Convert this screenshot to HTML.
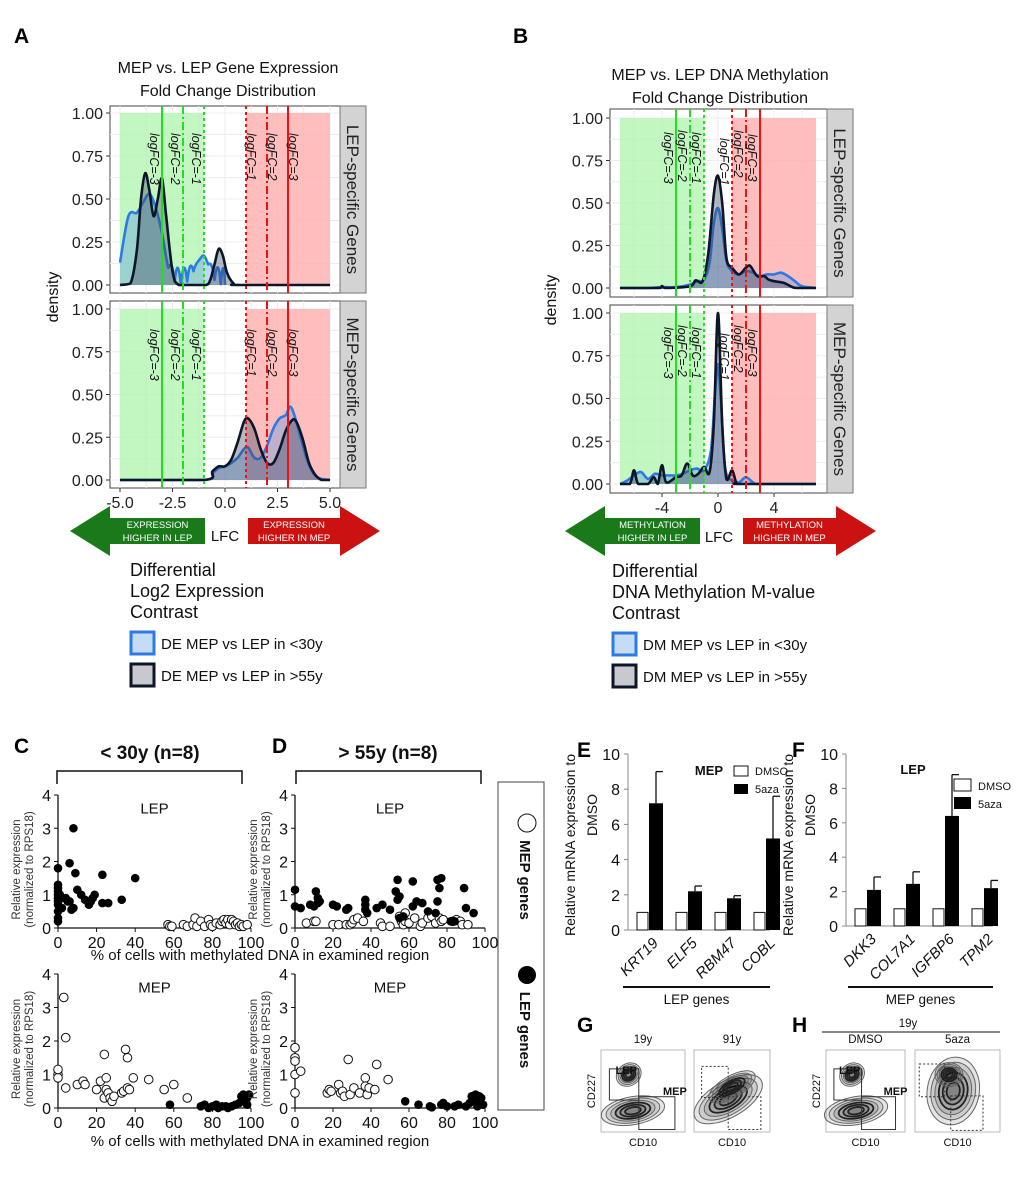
<!DOCTYPE html>
<html><head><meta charset="utf-8"><style>
html,body{margin:0;padding:0;background:#fff}
svg{display:block;font-family:"Liberation Sans",sans-serif}
</style></head><body>
<svg id="fig" width="1020" height="1189" viewBox="0 0 1020 1189" xmlns="http://www.w3.org/2000/svg"></svg>
<script>
// ---------- DATA ----------
const aTopBlueX=[-5,-4.6,-4.2,-3.9,-3.6,-3.3,-3.0,-2.7,-2.4,-2.1,-1.8,-1.5,-1.2,-1.0,-0.8,-0.5,-0.2,0];
const aTopBlueY=[0.13,0.40,0.42,0.48,0.53,0.45,0.30,0.10,0.02,0,0.02,0.08,0.15,0.17,0.12,0.03,0.005,0];
const aTopBlackX=[-5,-4.5,-4.2,-4.0,-3.8,-3.6,-3.4,-3.2,-3.0,-2.8,-2.5,-2.2,-1.5,-0.9,-0.7,-0.5,-0.3,-0.1,0.1,0.4,0.7,5];
const aTopBlackY=[0,0.01,0.2,0.5,0.65,0.55,0.40,0.5,0.62,0.4,0.08,0,0,0,0.03,0.12,0.21,0.17,0.07,0.01,0,0];
const aBotBlueX=[-5,-1,-0.6,-0.3,0,0.3,0.6,0.9,1.1,1.4,1.7,2.0,2.3,2.6,2.9,3.1,3.3,3.6,3.9,4.2,4.5,5];
const aBotBlueY=[0,0,0.04,0.07,0.08,0.1,0.13,0.18,0.19,0.13,0.13,0.2,0.3,0.36,0.38,0.43,0.38,0.25,0.12,0.04,0.01,0];
const aBotBlackX=[-5,-1,-0.6,-0.3,0,0.3,0.6,0.9,1.1,1.4,1.7,2.0,2.3,2.6,2.9,3.2,3.4,3.7,4.0,4.3,4.6,5];
const aBotBlackY=[0,0,0.05,0.08,0.08,0.12,0.22,0.34,0.36,0.3,0.18,0.1,0.1,0.18,0.29,0.35,0.34,0.24,0.1,0.03,0,0];
const bTopBlueX=[-7,-5,-4,-3,-2,-1.5,-1,-0.6,-0.3,0,0.3,0.6,1,1.5,2,2.5,3,3.5,4,4.5,5,5.5,6,7];
const bTopBlueY=[0,0,0.005,0.005,0.02,0.04,0.05,0.15,0.38,0.47,0.35,0.16,0.1,0.08,0.1,0.09,0.07,0.08,0.08,0.09,0.07,0.04,0.01,0];
const bTopBlackX=[-7,-4.3,-4,-3.7,-2,-1.6,-1.1,-0.7,-0.3,0,0.3,0.6,1,1.5,2,2.3,2.8,3.3,3.6,4,4.7,5.2,5.6,7];
const bTopBlackY=[0,0,0.012,0,0.01,0.045,0.04,0.2,0.55,0.66,0.5,0.18,0.12,0.08,0.12,0.13,0.07,0.07,0.05,0.04,0.03,0.01,0,0];
const bBotBlueX=[-7,-6.5,-6,-5.5,-5,-4.5,-4,-3.5,-3,-2.5,-2,-1.5,-1,-0.5,-0.2,0,0.2,0.5,1,1.5,2,2.5,3,7];
const bBotBlueY=[0,0.02,0.05,0.07,0.03,0.06,0.05,0.05,0.05,0.06,0.08,0.09,0.08,0.2,0.55,0.7,0.5,0.1,0.02,0.01,0.04,0.01,0,0];
const bBotBlackX=[-7,-6.3,-6,-5.7,-5,-4.6,-4.3,-4,-3.7,-3,-2.6,-2.2,-1.8,-1.4,-1.0,-0.6,-0.3,0,0.3,0.6,1,1.3,1.6,7];
const bBotBlackY=[0,0,0.08,0,0,0.04,0,0.11,0.01,0.04,0.05,0.12,0.05,0.06,0.1,0.07,0.35,1.0,0.35,0.03,0.08,0.01,0,0];

const cTopFilled=[[0,1.8],[0,1.3],[0,1.2],[0,1.1],[0,1.0],[0,0.9],[0,0.8],[0,0.7],[0,0.5],[0,0.3],[0,0.2],[1,1.0],[2,0.9],[2,0.6],[4,0.9],[5,0.8],[6,0.8],[6,1.95],[7,0.55],[8,0.6],[8,3.0],[9,1.65],[10,1.15],[12,1.0],[14,0.85],[16,0.7],[17,0.8],[18,0.9],[19,1.0],[23,0.75],[23,1.6],[26,0.75],[33,0.85],[40,1.5]];
const cTopOpen=[[57,0.1],[58,0.05],[59,0.05],[65,0.1],[67,0.05],[70,0.1],[71,0.3],[72,0.05],[74,0.2],[76,0.05],[78,0.25],[79,0.1],[80,0.05],[82,0.15],[84,0.1],[85,0.2],[86,0.25],[87,0.15],[88,0.25],[89,0.1],[90,0.25],[91,0.2],[92,0.1],[93,0.15],[94,0.05],[95,0.1],[96,0.05],[98,0.1]];
const dTopFilled=[[0,1.15],[0,0.65],[3,0.6],[8,0.7],[10,0.65],[11,1.1],[12,0.9],[12,0.75],[13,0.8],[20,0.7],[22,0.65],[27,0.55],[28,0.6],[37,0.85],[37,0.7],[37,0.55],[38,0.45],[43,0.6],[46,0.7],[50,0.55],[54,1.45],[53,1.1],[54,0.85],[55,0.95],[55,0.3],[57,0.35],[62,1.4],[62,0.65],[64,0.8],[67,0.75],[70,0.5],[74,0.45],[75,1.45],[76,1.2],[75,0.8],[77,1.5],[82,0.2],[84,0.2],[89,1.2],[90,0.6],[94,0.45]];
const dTopOpen=[[6,0.15],[10,0.2],[11,0.2],[20,0.1],[23,0.1],[27,0.1],[29,0.1],[30,0.15],[31,0.25],[33,0.3],[36,0.2],[45,0.15],[46,0.05],[50,0.05],[55,0.35],[56,0.2],[57,0.1],[58,0.45],[58,0.2],[60,0.15],[63,0.3],[66,0.05],[67,0.15],[70,0.3],[72,0.35],[74,0.15],[76,0.3],[77,0.2],[78,0.25],[83,0.2],[85,0.25],[87,0.2],[88,0.1],[91,0.1]];
const cBotOpen=[[0,1.0],[0,0.9],[0,1.15],[3,3.3],[4,2.1],[4,0.6],[10,0.7],[13,0.8],[14,0.7],[20,0.55],[22,0.8],[24,1.6],[25,0.9],[25,0.55],[24,0.3],[26,0.45],[27,0.3],[28,0.2],[29,0.35],[33,0.45],[34,0.5],[35,1.75],[36,1.5],[36,0.6],[37,0.55],[39,0.9],[47,0.85],[55,0.55],[60,0.7],[67,0.3]];
const cBotFilled=[[58,0.1],[74,0.05],[76,0.1],[78,0.0],[80,0.05],[82,0.1],[83,0.0],[85,0.05],[87,0.05],[88,0.0],[90,0.05],[92,0.1],[94,0.15],[95,0.35],[96,0.4],[97,0.2],[98,0.3],[99,0.4],[98,0.1]];
const dBotOpen=[[0,1.8],[0,1.5],[0,1.4],[0,1.0],[0,0.45],[3,1.1],[17,0.45],[18,0.55],[19,0.5],[23,0.7],[24,0.45],[25,0.5],[26,0.35],[28,1.45],[29,0.4],[31,0.6],[34,0.45],[37,0.9],[37,0.65],[38,0.4],[39,0.6],[42,0.55],[43,1.3],[49,0.85]];
const dBotFilled=[[58,0.2],[65,0.1],[71,0.05],[72,0.02],[77,0.1],[78,0.15],[80,0.05],[84,0.05],[86,0.1],[90,0.05],[92,0.15],[93,0.35],[94,0.3],[95,0.4],[96,0.2],[97,0.35],[98,0.3],[96,0.05],[99,0.1]];

const eGenes=["KRT19","ELF5","RBM47","COBL"];
const eDmso=[1,1,1,1];
const eAza=[7.2,2.2,1.8,5.2];
const eAzaErr=[1.8,0.3,0.15,2.4];
const fGenes=["DKK3","COL7A1","IGFBP6","TPM2"];
const fDmso=[1,1,1,1];
const fAza=[2.1,2.45,6.4,2.2];
const fAzaErr=[0.75,0.7,2.4,0.45];
const barTicks=[0,2,4,6,8,10];
const scatTicksY=[0,1,2,3,4];
const scatTicksX=[0,20,40,60,80,100];

// ---------- HELPERS ----------
const NS="http://www.w3.org/2000/svg";
const svg=document.getElementById('fig');
function mk(tag,attrs,parent){const e=document.createElementNS(NS,tag);for(const k in attrs)e.setAttribute(k,attrs[k]);(parent||svg).appendChild(e);return e;}
function txt(s,x,y,attrs,parent){const a=Object.assign({x:x,y:y,'font-size':14,fill:'#111'},attrs||{});const e=mk('text',a,parent);e.textContent=s;return e;}
function lin(a,b,c,d){return v=>c+(v-a)*(d-c)/(b-a);}
function smooth(pts){let d='M'+pts[0][0]+','+pts[0][1];for(let i=0;i<pts.length-1;i++){const p0=pts[Math.max(0,i-1)],p1=pts[i],p2=pts[i+1],p3=pts[Math.min(pts.length-1,i+2)];const c1=[p1[0]+(p2[0]-p0[0])/6,p1[1]+(p2[1]-p0[1])/6],c2=[p2[0]-(p3[0]-p1[0])/6,p2[1]-(p3[1]-p1[1])/6];d+=' C'+c1[0].toFixed(1)+','+Math.min(c1[1],pts[0][1]).toFixed(1)+' '+c2[0].toFixed(1)+','+Math.min(c2[1],pts[0][1]).toFixed(1)+' '+p2[0].toFixed(1)+','+p2[1].toFixed(1);}return d;}

// ---------- DENSITY PANELS ----------
function densityPanel(cfg){
  const g=mk('g',{});
  
  
  const sx=lin(cfg.xmin,cfg.xmax,cfg.px0,cfg.px1), sy=lin(0,1,cfg.py0,cfg.py1);
  mk('rect',{x:cfg.bx0,y:cfg.by0,width:cfg.bx1-cfg.bx0,height:cfg.by1-cfg.by0,fill:'#fff',stroke:'#444','stroke-width':1},g);
  cfg.grid.forEach(v=>mk('line',{x1:sx(v),x2:sx(v),y1:cfg.by0,y2:cfg.by1,stroke:'#ececec','stroke-width':1},g));
  [0,0.125,0.25,0.375,0.5,0.625,0.75,0.875,1].forEach(v=>mk('line',{x1:cfg.bx0,x2:cfg.bx1,y1:sy(v),y2:sy(v),stroke:'#ececec','stroke-width':1},g));
  const gr=mk('rect',{x:sx(cfg.shade[0]),y:sy(1),width:sx(-1)-sx(cfg.shade[0]),height:sy(0)-sy(1),fill:'#b3f5b3',opacity:0.8},g);
  
  
  const rr=mk('rect',{x:sx(1),y:sy(1),width:sx(cfg.shade[1])-sx(1),height:sy(0)-sy(1),fill:'#ffb3b3',opacity:0.85},g);
  
  
  [[cfg.blueX,cfg.blueY,'rgba(90,150,230,0.38)','#2c7be5','blue'],[cfg.blackX,cfg.blackY,'rgba(60,70,95,0.38)','#0d1628','black']].forEach(s=>{
    const pts=s[0].map((x,i)=>[sx(x),sy(s[1][i])]);
    const base=sy(0);
    const p=smooth(pts);
    const f=mk('path',{d:p+' L'+pts[pts.length-1][0]+','+base+' L'+pts[0][0]+','+base+' Z',fill:s[2],stroke:'none'},g);
    
    
    const l=mk('path',{d:p,fill:'none',stroke:s[3],'stroke-width':2.6,'stroke-linejoin':'round'},g);
    
    
  });
  [[-3,'#22dd22',''],[-2,'#22dd22','8,3,2,3'],[-1,'#22dd22','3,3'],[1,'#ee1111','3,3'],[2,'#ee1111','8,3,2,3'],[3,'#ee1111','']].forEach((t,i)=>{
    const l=mk('line',{x1:sx(t[0]),x2:sx(t[0]),y1:cfg.by0,y2:cfg.by1,stroke:t[1],'stroke-width':2,'stroke-dasharray':t[2]},g);
    
    
    const lx = cfg.labelLeft ? sx(t[0])-12 : (t[0]<0? sx(t[0])-12 : sx(t[0])+1);
    const ly = cfg.py1 + cfg.labelY[i];
    const tt=txt('logFC='+t[0],lx,ly,{'font-size':12.5,'font-style':'italic',transform:'rotate(90 '+lx+' '+ly+')'},g);
    
    
  });
  [0,0.25,0.5,0.75,1].forEach(v=>{
    mk('line',{x1:cfg.bx0-4,x2:cfg.bx0,y1:sy(v),y2:sy(v),stroke:'#333'},g);
    const t=txt(v.toFixed(2),cfg.bx0-7,sy(v)+6,{'font-size':16,'text-anchor':'end',fill:'#222'},g);
    
    
  });
  const st=mk('rect',{x:cfg.bx1,y:cfg.by0,width:26,height:cfg.by1-cfg.by0,fill:'#d3d3d3',stroke:'#777'},g);
  
  
  const cx=cfg.bx1+7, cy=(cfg.by0+cfg.by1)/2;
  const sl=txt(cfg.strip,cx,cy,{'font-size':17,'text-anchor':'middle',fill:'#222',transform:'rotate(90 '+cx+' '+cy+')'},g);
  
  
  if(cfg.xticks){
    cfg.xticks.forEach(v=>{
      mk('line',{x1:sx(v),x2:sx(v),y1:cfg.by1,y2:cfg.by1+4,stroke:'#333'},g);
      const t=txt(cfg.xfmt(v),sx(v),cfg.by1+20,{'font-size':16,'text-anchor':'middle',fill:'#222'},g);
      
      
    });
  }
}
const labYA=[20,20,20,20,20,20];
densityPanel({name:'panel-a-lep-density',xmin:-5,xmax:5,px0:120,px1:330,py0:285,py1:113,bx0:110,bx1:340,by0:106,by1:293,grid:[-5,-3.75,-2.5,-1.25,0,1.25,2.5,3.75,5],shade:[-5,5],blueX:aTopBlueX,blueY:aTopBlueY,blackX:aTopBlackX,blackY:aTopBlackY,strip:'LEP-specific Genes',labelY:labYA});
densityPanel({name:'panel-a-mep-density',xmin:-5,xmax:5,px0:120,px1:330,py0:480,py1:309,bx0:110,bx1:340,by0:301,by1:488,grid:[-5,-3.75,-2.5,-1.25,0,1.25,2.5,3.75,5],shade:[-5,5],blueX:aBotBlueX,blueY:aBotBlueY,blackX:aBotBlackX,blackY:aBotBlackY,strip:'MEP-specific Genes',labelY:labYA,xticks:[-5,-2.5,0,2.5,5],xfmt:v=>v.toFixed(1)});
const labYB=[14,12,14,20,12,16];
densityPanel({name:'panel-b-lep-density',xmin:-7,xmax:7,px0:620,px1:816,py0:288,py1:118,bx0:610,bx1:827,by0:109,by1:297,grid:[-6,-4,-2,0,2,4,6],shade:[-7,7],blueX:bTopBlueX,blueY:bTopBlueY,blackX:bTopBlackX,blackY:bTopBlackY,strip:'LEP-specific Genes',labelY:labYB,labelLeft:true});
densityPanel({name:'panel-b-mep-density',xmin:-7,xmax:7,px0:620,px1:816,py0:484,py1:313,bx0:610,bx1:827,by0:305,by1:493,grid:[-6,-4,-2,0,2,4,6],shade:[-7,7],blueX:bBotBlueX,blueY:bBotBlueY,blackX:bBotBlackX,blackY:bBotBlackY,strip:'MEP-specific Genes',labelY:labYB,labelLeft:true,xticks:[-4,0,4],xfmt:v=>String(v)});

const lbls=[['A',14,43],['B',513,43],['C',14,753],['D',272,753],['E',577,757],['F',792,757],['G',577,1032],['H',792,1032]];
lbls.forEach(l=>{const t=txt(l[0],l[1],l[2],{'font-size':21,'font-weight':'bold',fill:'#000'});

});
[['MEP vs. LEP Gene Expression',228,73],['Fold Change Distribution',228,96],['MEP vs. LEP DNA Methylation',720,80],['Fold Change Distribution',720,103]].forEach(l=>{
const t=txt(l[0],l[1],l[2],{'font-size':16,'text-anchor':'middle',fill:'#111'});

});
[[58,297],[556,300]].forEach(p=>{const t=txt('density',p[0],p[1],{'font-size':16,'text-anchor':'middle',transform:'rotate(-90 '+p[0]+' '+p[1]+')'});

});

function arrow(x0,x1,dir,col,l1,l2,name){
  const yc=531,hh=25,sh=13,hl=40;
  let d;
  if(dir<0){d=`M${x0},${yc} L${x0+hl},${yc-hh} L${x0+hl},${yc-sh} L${x1},${yc-sh} L${x1},${yc+sh} L${x0+hl},${yc+sh} L${x0+hl},${yc+hh} Z`;}
  else{d=`M${x1},${yc} L${x1-hl},${yc-hh} L${x1-hl},${yc-sh} L${x0},${yc-sh} L${x0},${yc+sh} L${x1-hl},${yc+sh} L${x1-hl},${yc+hh} Z`;}
  const p=mk('path',{d:d,fill:col});
  
  
  const cx=dir<0?(x0+hl+x1)/2:(x0+x1-hl)/2;
  txt(l1,cx,528,{'font-size':9.5,'text-anchor':'middle',fill:'#fff'});
  txt(l2,cx,541,{'font-size':9.5,'text-anchor':'middle',fill:'#fff'});
}
arrow(70,205,-1,'#1a7a1a','EXPRESSION','HIGHER IN LEP','arrow-higher-in-lep');
arrow(248,380,1,'#cc1111','EXPRESSION','HIGHER IN MEP','arrow-higher-in-mep');
arrow(565,700,-1,'#1a7a1a','METHYLATION','HIGHER IN LEP','arrow-methylation-lep');
arrow(743,876,1,'#cc1111','METHYLATION','HIGHER IN MEP','arrow-methylation-mep');
txt('LFC',225,541,{'font-size':15,'text-anchor':'middle'});
txt('LFC',719,542,{'font-size':15,'text-anchor':'middle'});

function legend(x,y,lines,k1,k2,name){
  const g=mk('g',{});
  
  
  lines.forEach((s,i)=>txt(s,x,y+i*21,{'font-size':18,fill:'#111'},g));
  const ky=y+56;
  const b1=mk('rect',{x:x+1,y:ky,width:23,height:22,fill:'#c6dcf5',stroke:'#2c7be5','stroke-width':3},g);
  
  
  txt(k1,x+31,ky+17,{'font-size':15},g);
  const b2=mk('rect',{x:x+1,y:ky+32,width:23,height:22,fill:'#c7c9cf',stroke:'#0d1628','stroke-width':3},g);
  
  
  txt(k2,x+31,ky+49,{'font-size':15},g);
}
legend(130,576,['Differential','Log2 Expression','Contrast'],'DE MEP vs LEP in <30y','DE MEP vs LEP in >55y','legend-a');
legend(612,577,['Differential','DNA Methylation M-value','Contrast'],'DM MEP vs LEP in <30y','DM MEP vs LEP in >55y','legend-b');

// ---------- SCATTER C/D ----------
function bracket(x0,x1,title,cx){
  mk('path',{d:`M${x0},784 L${x0},771 L${x1},771 L${x1},784`,fill:'none',stroke:'#111','stroke-width':1.5});
  const t=txt(title,cx,759,{'font-size':19,'font-weight':'bold','text-anchor':'middle'});
  
  
}
bracket(57,242,'< 30y (n=8)',150);
bracket(296,481,'> 55y (n=8)',388);
function scatter(cfg){
  const g=mk('g',{});
  
  
  const sx=lin(0,100,cfg.x0,cfg.x1), sy=lin(0,4,cfg.y0,cfg.y1);
  mk('line',{x1:sx(0),x2:sx(0),y1:sy(0),y2:sy(4),stroke:'#111','stroke-width':1.3},g);
  mk('line',{x1:sx(0),x2:sx(100),y1:sy(0),y2:sy(0),stroke:'#111','stroke-width':1.3},g);
  scatTicksY.forEach(v=>{mk('line',{x1:sx(0)-4,x2:sx(0),y1:sy(v),y2:sy(v),stroke:'#111'},g);
    txt(String(v),sx(0)-7,sy(v)+6,{'font-size':16,'text-anchor':'end'},g);});
  scatTicksX.forEach(v=>{mk('line',{x1:sx(v),x2:sx(v),y1:sy(0),y2:sy(0)+4,stroke:'#111'},g);
    txt(String(v),sx(v),sy(0)+20,{'font-size':16,'text-anchor':'middle'},g);});
  txt(cfg.label,(sx(0)+sx(100))/2,sy(3.45),{'font-size':15,'text-anchor':'middle'},g);
  const yx=sx(0)-38, yx2=sx(0)-25, yc=(sy(0)+sy(4))/2+8;
  txt('Relative expression',yx,yc,{'font-size':11.5,'text-anchor':'middle',fill:'#333',transform:`rotate(-90 ${yx} ${yc})`},g);
  txt('(normalized to RPS18)',yx2,yc,{'font-size':11.5,'text-anchor':'middle',fill:'#333',transform:`rotate(-90 ${yx2} ${yc})`},g);
  cfg.open.forEach(p=>{const c=mk('circle',{cx:sx(p[0]),cy:sy(p[1]),r:4.3,fill:'#fff',stroke:'#111','stroke-width':1},g);
    
    });
  cfg.filled.forEach(p=>{const c=mk('circle',{cx:sx(p[0]),cy:sy(p[1]),r:4.3,fill:'#000'},g);
    
    });
}
scatter({name:'scatter-c-lep',x0:58,x1:251,y0:928,y1:795,label:'LEP',open:cTopOpen,filled:cTopFilled});
scatter({name:'scatter-d-lep',x0:295,x1:485,y0:928,y1:795,label:'LEP',open:dTopOpen,filled:dTopFilled});
scatter({name:'scatter-c-mep',x0:58,x1:251,y0:1108,y1:974,label:'MEP',open:cBotOpen,filled:cBotFilled});
scatter({name:'scatter-d-mep',x0:295,x1:485,y0:1108,y1:974,label:'MEP',open:dBotOpen,filled:dBotFilled});
[[260,960],[260,1146]].forEach(p=>{const t=txt('% of cells with methylated DNA in examined region',p[0],p[1],{'font-size':15,'text-anchor':'middle'});

});
const lb=mk('rect',{x:498,y:782,width:46,height:328,fill:'#fff',stroke:'#444','stroke-width':1});


mk('circle',{cx:527,cy:823,r:9,fill:'#fff',stroke:'#111'});
mk('circle',{cx:527,cy:975,r:9,fill:'#000'});
txt('MEP genes',520,880,{'font-size':15,'font-weight':'bold','text-anchor':'middle',transform:'rotate(90 520 880)'});
txt('LEP genes',520,1030,{'font-size':15,'font-weight':'bold','text-anchor':'middle',transform:'rotate(90 520 1030)'});

// ---------- BARS E/F ----------
function bars(cfg){
  const g=mk('g',{});
  
  
  const sy=lin(0,10,cfg.y0,cfg.y1);
  mk('line',{x1:cfg.ax,x2:cfg.ax,y1:sy(0),y2:sy(10),stroke:'#888'},g);
  mk('line',{x1:cfg.ax,x2:cfg.xend,y1:sy(0),y2:sy(0),stroke:'#888'},g);
  barTicks.forEach(v=>{mk('line',{x1:cfg.ax-4,x2:cfg.ax,y1:sy(v),y2:sy(v),stroke:'#888'},g);
    txt(String(v),cfg.ax-8,sy(v)+6,{'font-size':16,'text-anchor':'end'},g);});
  cfg.genes.forEach((gn,i)=>{
    const xd=cfg.first+i*cfg.step;
    const r1=mk('rect',{x:xd,y:sy(cfg.dmso[i]),width:11,height:sy(0)-sy(cfg.dmso[i]),fill:'#fff',stroke:'#111','stroke-width':1},g);
    
    
    const xa=xd+12;
    const r2=mk('rect',{x:xa,y:sy(cfg.aza[i]),width:14,height:sy(0)-sy(cfg.aza[i]),fill:'#000'},g);
    
    
    const top=sy(cfg.aza[i]+cfg.err[i]);
    mk('line',{x1:xa+7,x2:xa+7,y1:sy(cfg.aza[i]),y2:top,stroke:'#111','stroke-width':1.3},g);
    mk('line',{x1:xa+7,x2:xa+14,y1:top,y2:top,stroke:'#111','stroke-width':1.3},g);
    const tx=xa+10, ty=sy(0)+14;
    txt(gn,tx,ty,{'font-size':15,'font-style':'italic','text-anchor':'end',transform:`rotate(-45 ${tx} ${ty})`},g);
  });
  mk('line',{x1:cfg.ulx0,x2:cfg.xend,y1:987,y2:987,stroke:'#111','stroke-width':2},g);
  txt(cfg.under,(cfg.ulx0+cfg.xend)/2,1004,{'font-size':13.5,'text-anchor':'middle'},g);
  const yx=cfg.ax-53, yx2=cfg.ax-31, yc=845;
  txt('Relative mRNA expression to',yx,yc,{'font-size':14,'text-anchor':'middle',transform:`rotate(-90 ${yx} ${yc})`},g);
  txt('DMSO',yx2,yc-30,{'font-size':14,'text-anchor':'middle',transform:`rotate(-90 ${yx2} ${yc-30})`},g);
  txt(cfg.title,cfg.tx,cfg.ty,{'font-size':13,'font-weight':'bold','text-anchor':'middle'},g);
  mk('rect',{x:cfg.lx,y:cfg.ly,width:cfg.lw,height:cfg.lh,fill:'#fff',stroke:'#111'},g);
  txt('DMSO',cfg.lx+cfg.lw+7,cfg.ly+cfg.lh-1,{'font-size':11},g);
  mk('rect',{x:cfg.lx,y:cfg.ly+cfg.lgap,width:cfg.lw,height:cfg.lh,fill:'#000'},g);
  txt('5aza',cfg.lx+cfg.lw+7,cfg.ly+cfg.lgap+cfg.lh-1,{'font-size':11},g);
}
bars({name:'bar-chart-e',ax:628,xend:770,y0:930,y1:754,first:637,step:39,genes:eGenes,dmso:eDmso,aza:eAza,err:eAzaErr,ulx0:623,under:'LEP genes',title:'MEP',tx:709,ty:775,lx:734,ly:766,lw:14,lh:10,lgap:18});
bars({name:'bar-chart-f',ax:846,xend:993,y0:926,y1:754,first:855,step:39,genes:fGenes,dmso:fDmso,aza:fAza,err:fAzaErr,ulx0:848,under:'MEP genes',title:'LEP',tx:913,ty:774,lx:954,ly:779,lw:17,lh:12,lgap:18});

// ---------- FLOW G/H ----------
function flow(cfg){
  const g=mk('g',{});
  
  
  const {x0,x1,y0,y1}=cfg;
  mk('rect',{x:x0,y:y0,width:x1-x0,height:y1-y0,fill:'#fff',stroke:'#aaa','stroke-width':0.8},g);
  cfg.blobs.forEach(b=>{
    const cx=x0+b[0]*(x1-x0), cy=y0+b[1]*(y1-y0);
    for(let k=0;k<6;k++){
      mk('ellipse',{cx:cx,cy:cy,rx:b[2]*(1-k*0.15),ry:b[3]*(1-k*0.15),transform:`rotate(${b[4]} ${cx} ${cy})`,fill:'rgba(0,0,0,0.1)',stroke:k>2?'#222':'#666','stroke-width':k>2?1.8:1},g);
    }
  });
  cfg.gates.forEach(q=>mk('rect',{x:x0+q[0]*(x1-x0),y:y0+q[1]*(y1-y0),width:q[2]*(x1-x0),height:q[3]*(y1-y0),fill:'none',stroke:'#333','stroke-width':1,'stroke-dasharray':q[4]?'2,2':''},g));
  if(cfg.gl){txt('LEP',x0+0.3*(x1-x0),y0+24,{'font-size':11,'font-weight':'bold','text-anchor':'middle'},g);
    txt('MEP',x0+0.88*(x1-x0),y0+0.55*(y1-y0),{'font-size':11,'font-weight':'bold','text-anchor':'middle'},g);}
  txt('CD10',(x0+x1)/2,y1+14,{'font-size':11,'text-anchor':'middle'},g);
  txt(cfg.title,(x0+x1)/2,y0-7,{'font-size':11.5,'text-anchor':'middle'},g);
  if(cfg.ylab){const yx=x0-6,yc=(y0+y1)/2;txt('CD227',yx,yc,{'font-size':11,'text-anchor':'middle',transform:`rotate(-90 ${yx} ${yc})`},g);}
}
const normalBlobs=[[0.38,0.74,32,14,-10],[0.33,0.3,13,11,-35]];
flow({name:'flow-g-19y',x0:601,x1:685,y0:1050,y1:1132,title:'19y',ylab:true,gl:true,blobs:normalBlobs,gates:[[0.1,0.23,0.35,0.38,0],[0.45,0.57,0.43,0.4,0]]});
flow({name:'flow-g-91y',x0:694,x1:770,y0:1050,y1:1132,title:'91y',blobs:[[0.45,0.6,38,18,-30],[0.5,0.45,26,11,-30]],gates:[[0.1,0.2,0.35,0.38,1],[0.45,0.57,0.43,0.4,1]]});
flow({name:'flow-h-dmso',x0:826,x1:905,y0:1050,y1:1132,title:'DMSO',ylab:true,gl:true,blobs:normalBlobs,gates:[[0.1,0.23,0.35,0.38,0],[0.45,0.57,0.43,0.4,0]]});
flow({name:'flow-h-5aza',x0:915,x1:1000,y0:1050,y1:1132,title:'5aza',blobs:[[0.45,0.5,26,34,10],[0.4,0.3,14,12,0]],gates:[[0.05,0.17,0.3,0.4,1],[0.42,0.56,0.38,0.42,1]]});
mk('line',{x1:822,x2:1000,y1:1032,y2:1032,stroke:'#111','stroke-width':1});
txt('19y',908,1027,{'font-size':11.5,'text-anchor':'middle'});
</script>
</body></html>
